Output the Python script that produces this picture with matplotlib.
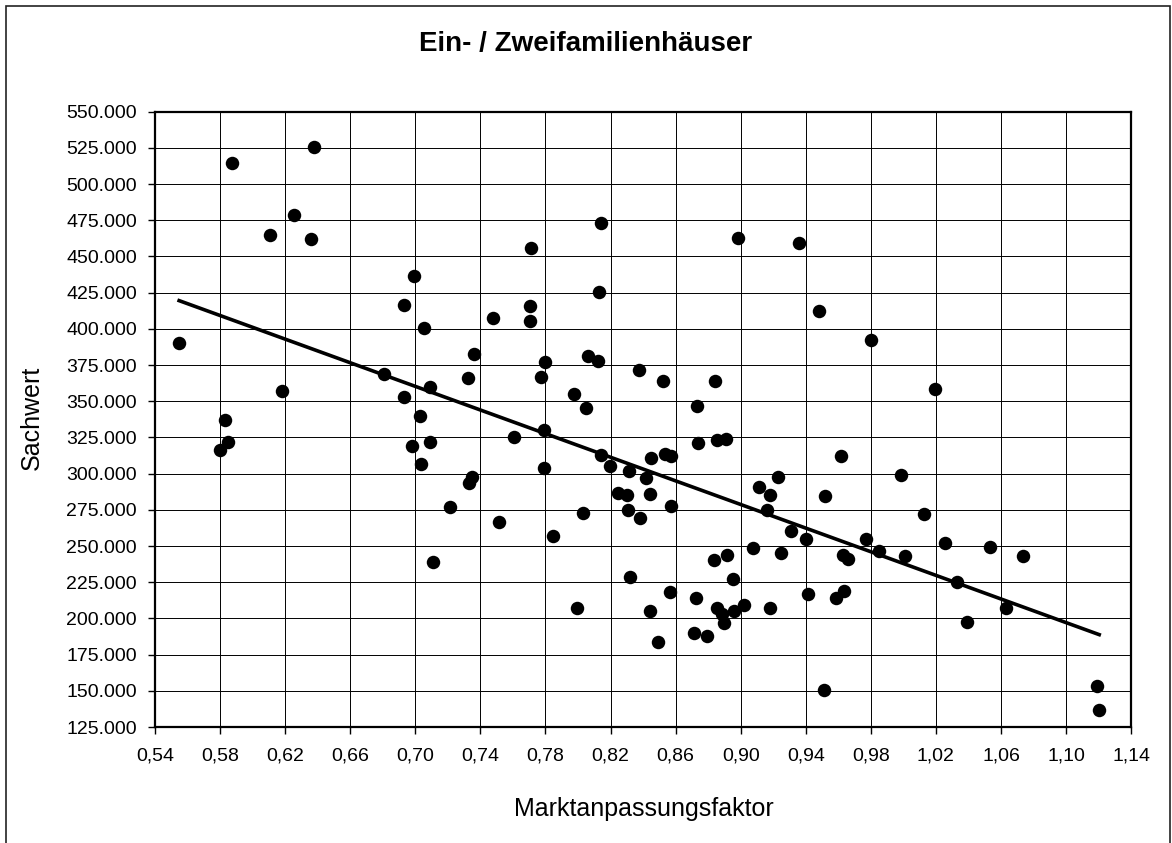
import matplotlib
matplotlib.use("Agg")
import matplotlib.pyplot as plt
from matplotlib.patches import Rectangle
from matplotlib.ticker import FuncFormatter
import numpy as np

plt.rcParams['font.family'] = ['Liberation Sans', 'DejaVu Sans']

# Marktanpassungsfaktor / Sachwert
faktor = [0.5873, 0.6375, 0.6256, 0.6107, 0.6357, 0.6992, 0.6932, 0.7051, 0.5548, 0.7363,
          0.6810, 0.7322, 0.7088, 0.6182, 0.6932, 0.7027, 0.5832, 0.8139, 0.7713, 0.8985,
          0.9360, 0.8131, 0.7705, 0.7476, 0.7705, 0.7799, 0.8063, 0.8123, 0.7771, 0.8375,
          0.8524, 0.8842, 0.7973, 0.8047, 0.8731, 0.9479, 0.9803, 1.0196, 0.5851, 0.5798,
          0.6980, 0.7088, 0.7037, 0.7346, 0.7328, 0.7211, 0.7111, 0.7605, 0.7789, 0.7789,
          0.7514, 0.7846, 0.8031, 0.7996, 0.8139, 0.8198, 0.8315, 0.8416, 0.8449, 0.8533,
          0.8573, 0.8739, 0.8854, 0.8911, 0.8248, 0.8299, 0.8441, 0.8307, 0.8381, 0.8573,
          0.8320, 0.8441, 0.8492, 0.8564, 0.8725, 0.8711, 0.8791, 0.8834, 0.8918, 0.8953,
          0.8854, 0.8887, 0.8899, 0.8959, 0.9018, 0.9076, 0.9111, 0.9178, 0.9160, 0.9227,
          0.9178, 0.9249, 0.9309, 0.9403, 0.9415, 0.9618, 0.9520, 0.9987, 1.0128, 0.9770,
          0.9852, 1.0012, 0.9627, 0.9658, 1.0254, 1.0530, 1.0733, 1.0329, 1.0630, 1.0389,
          0.9585, 0.9637, 0.9510, 1.1192, 1.1200]
sachwert = [514600, 525600, 478900, 464800, 461900, 436500, 416700, 400900, 390500, 382500,
            369100, 366100, 359700, 356900, 353000, 339600, 336900, 473400, 456100, 462800,
            459300, 425300, 415800, 407700, 405500, 377300, 381300, 378000, 367000, 371800,
            364200, 364200, 354800, 345600, 346500, 412200, 392100, 358700, 322100, 316600,
            319100, 322100, 306700, 297700, 293600, 276800, 239200, 325600, 330400, 304200,
            266600, 257200, 273100, 207500, 312700, 305100, 302100, 296800, 310900, 313800,
            312500, 321000, 323100, 324200, 286900, 285300, 286200, 274900, 269400, 277900,
            228700, 205400, 183800, 218500, 213900, 190200, 187700, 240200, 244100, 227100,
            207500, 202900, 197100, 205200, 209100, 248700, 290800, 285300, 274900, 297500,
            207500, 245000, 260600, 255100, 216700, 312400, 284400, 299300, 272200, 255100,
            246600, 242900, 244000, 241100, 252400, 249600, 242900, 225400, 207500, 197800,
            213900, 218800, 150800, 153600, 137000]

trend_x = [0.5548, 1.1204]
trend_y = [419500, 188800]

x_ticks = np.arange(0.54, 1.1401, 0.04)
y_ticks = np.arange(125000, 550001, 25000)

fig = plt.figure(figsize=(11.72, 8.43), dpi=100)
ax = fig.add_axes([0.1323, 0.1376, 0.8328, 0.7299])

ax.plot(faktor, sachwert, 'o', color='black', ms=9.7, mec='none', zorder=3)
ax.plot(trend_x, trend_y, color='black', lw=2.6, zorder=4)

ax.set_xlim(0.54, 1.14)
ax.set_ylim(125000, 550000)
ax.set_xticks(x_ticks)
ax.set_yticks(y_ticks)
ax.xaxis.set_major_formatter(FuncFormatter(lambda v, p: f"{v:.2f}".replace('.', ',')))
ax.yaxis.set_major_formatter(FuncFormatter(lambda v, p: f"{int(round(v)):,}".replace(',', '.')))
ax.tick_params(labelsize=14, length=5, width=1)
ax.tick_params(axis='x', pad=10)
ax.tick_params(axis='y', pad=8)
ax.grid(True, color='black', lw=0.7)
ax.set_axisbelow(True)
for s in ax.spines.values():
    s.set_linewidth(1.6)

fig.text(0.5, 1 - 44 / 843, "Ein- / Zweifamilienhäuser", ha='center', va='center',
         fontsize=20, fontweight='bold')
fig.text(31.5 / 1172, 1 - 418 / 843, "Sachwert", rotation=90, ha='center', va='center', fontsize=18)
fig.text(644 / 1172, 1 - 809 / 843, "Marktanpassungsfaktor", ha='center', va='center', fontsize=18)

fig.patches.append(Rectangle((5.5 / 1172, -0.02), (1170 - 5.5) / 1172, 1 - 6 / 843 + 0.02,
                             transform=fig.transFigure, fill=False, ec='#222222', lw=1.2))

plt.savefig("out.png", dpi=100)
